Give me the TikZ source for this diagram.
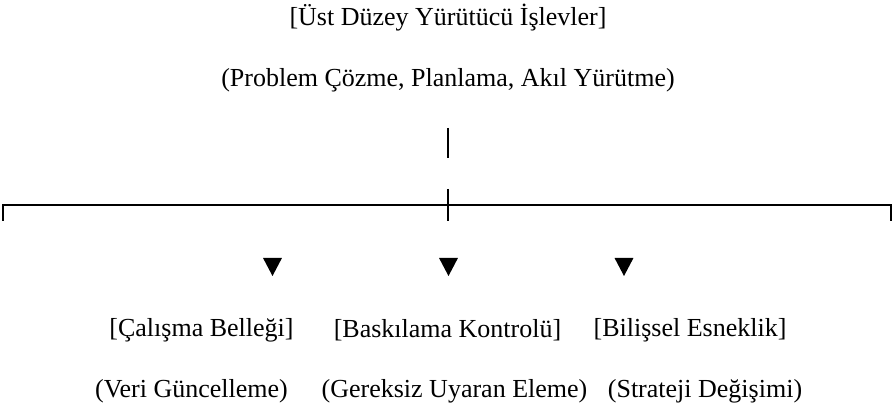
\documentclass[tikz,border=0pt]{standalone}
\usepackage{fontspec}
\setmainfont{Liberation Serif}
\begin{document}
\begin{tikzpicture}[x=0.75pt,y=-0.75pt,
  lbl/.style={inner sep=0pt,font=\fontsize{19.5}{23}\selectfont},
  rule/.style={line width=1.4pt,black},
  tri/.style={fill=black}]
\useasboundingbox (0,0) rectangle (892,409);
\node[lbl] (title) at (448,18) {[Üst Düzey Yürütücü İşlevler]};
\node[lbl] (sub) at (448,80) {(Problem Çözme, Planlama, Akıl Yürütme)};
\coordinate (bt) at (448,128);
\coordinate (bb) at (448,158);
\draw[rule] (bt) -- (bb);
\coordinate (L) at (3,205);
\coordinate (R) at (891,205);
\coordinate (Ld) at (3,221);
\coordinate (Rd) at (891,221);
\coordinate (Ct) at (448,189);
\coordinate (Cd) at (448,221);
\draw[rule] (Ld) -- (L) -- (R) -- (Rd);
\draw[rule] (Ct) -- (Cd);
\foreach \n/\x in {t1/272.5,t2/448.5,t3/624}{
  \coordinate (\n) at (\x,267);
  \fill[tri] ([xshift=-7.1pt,yshift=6.75pt]\n) -- ([xshift=7.1pt,yshift=6.75pt]\n) -- ([yshift=-6.75pt]\n) -- cycle;
}
\node[lbl] (a1) at (201.5,330) {[Çalışma Belleği]};
\node[lbl] (b1) at (447.5,330) {[Baskılama Kontrolü]};
\node[lbl] (c1) at (690,330) {[Bilişsel Esneklik]};
\node[lbl] (a2) at (191.5,391) {(Veri Güncelleme)};
\node[lbl] (b2) at (454.5,391) {(Gereksiz Uyaran Eleme)};
\node[lbl] (c2) at (705,391) {(Strateji Değişimi)};
\end{tikzpicture}
\end{document}
